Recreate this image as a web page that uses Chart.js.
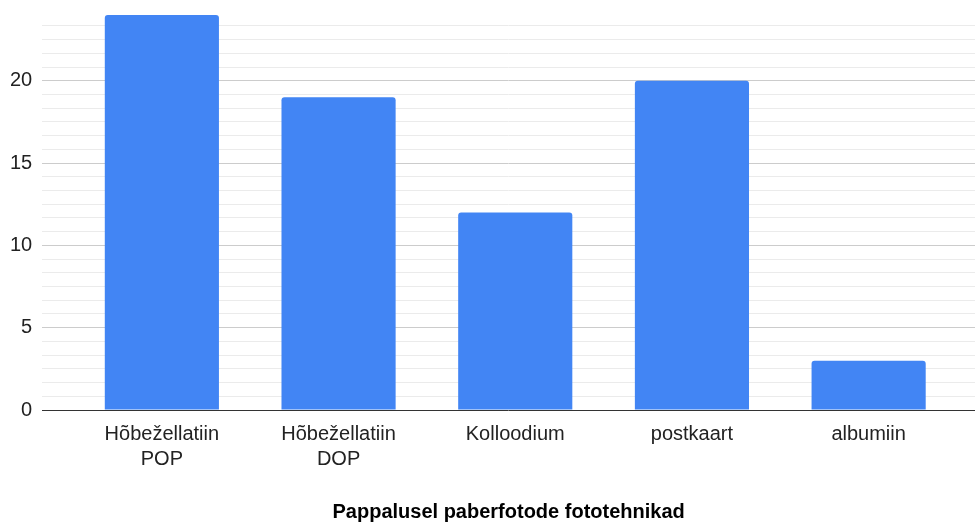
<!DOCTYPE html>
<html>
<head>
<meta charset="utf-8">
<script src="https://cdn.jsdelivr.net/npm/chart.js@4/dist/chart.umd.min.js"></script>
<style>
  html, body { margin: 0; padding: 0; background: #fff; }
  #wrap { width: 975px; height: 524px; }
</style>
</head>
<body>
<div id="wrap"><canvas id="techChart"></canvas></div>
<script>
const categories = [
    ['Hõbežellatiin', 'POP'],
    ['Hõbežellatiin', 'DOP'],
    ['Kolloodium'],
    ['postkaart'],
    ['albumiin']
];
const counts = [24, 19, 12, 20, 3];
const yTickLabels = [0, 5, 10, 15, 20];
const axisTitle = 'Pappalusel paberfotode fototehnikad';

// minor gridlines: 6 per labelled step
const minorPerStep = 6;
const stepValue = 5;

const FONT = '"Liberation Sans", Arial, sans-serif';

const ctx = document.getElementById('techChart').getContext('2d');

new Chart(ctx, {
    type: 'bar',
    data: {
        datasets: [{
            data: counts.map((v, i) => ({ x: i, y: v })),
            backgroundColor: '#4285F4',
            borderWidth: 0,
            borderRadius: { topLeft: 3, topRight: 3 },
            borderSkipped: 'start',
            categoryPercentage: 1,
            barPercentage: 0.646
        }]
    },
    options: {
        responsive: true,
        maintainAspectRatio: false,
        animation: false,
        layout: {
            padding: { left: 0, right: 0, top: 15, bottom: 0 }
        },
        plugins: {
            legend: { display: false },
            tooltip: { enabled: false }
        },
        scales: {
            x: {
                type: 'linear',
                offset: false,
                min: -0.677,
                max: 4.602,
                afterBuildTicks: scale => {
                    scale.ticks = categories.map((c, i) => ({ value: i }));
                },
                grid: { display: false, drawTicks: false },
                border: { display: false },
                ticks: {
                    autoSkip: false,
                    maxRotation: 0,
                    padding: 12,
                    color: '#222',
                    font: { family: FONT, size: 20, lineHeight: 1.25 },
                    callback: value => categories[value]
                },
                title: {
                    display: true,
                    text: axisTitle,
                    color: '#000',
                    font: { family: FONT, size: 20, weight: 'bold' },
                    padding: { top: 16, bottom: 0 }
                }
            },
            y: {
                min: 0,
                max: 24,
                afterBuildTicks: scale => {
                    const ticks = [];
                    const last = Math.floor(scale.max * minorPerStep / stepValue);
                    for (let k = 0; k <= last; k++) {
                        if (k * stepValue / minorPerStep >= scale.max) break;
                        ticks.push({ value: k * stepValue / minorPerStep });
                    }
                    scale.ticks = ticks;
                },
                grid: {
                    drawTicks: false,
                    lineWidth: 1,
                    color: c => {
                        if (c.index === 0) return '#333';
                        return c.index % minorPerStep === 0 ? '#cccccc' : '#ebebeb';
                    }
                },
                border: { display: false },
                ticks: {
                    autoSkip: false,
                    padding: 10,
                    color: '#222',
                    font: { family: FONT, size: 20, lineHeight: 0.5 },
                    callback: (value, index) =>
                        index % minorPerStep === 0 ? String(yTickLabels[index / minorPerStep]) : ''
                }
            }
        }
    }
});
</script>
</body>
</html>
